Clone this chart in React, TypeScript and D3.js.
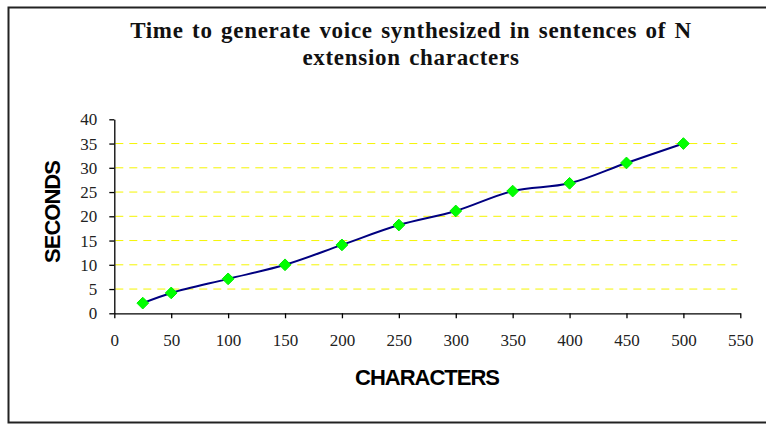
import React, { useRef, useEffect } from 'react';
import * as d3 from 'd3';

const characters = [25, 50, 100, 150, 200, 250, 300, 350, 400, 450, 500];
const seconds = [2.1, 4.2, 7.1, 10, 14.1, 18.2, 21.1, 25.2, 26.8, 31, 35];
const xTicks = [0, 50, 100, 150, 200, 250, 300, 350, 400, 450, 500, 550];
const yTicks = [0, 5, 10, 15, 20, 25, 30, 35, 40];
const titleLines = ['Time to generate voice synthesized in sentences of N', 'extension characters'];

export default function App() {
  const svgRef = useRef<SVGSVGElement>(null);

  useEffect(() => {
    if (!svgRef.current) return;
    const width = 766;
    const height = 424;
    const margin = { top: 119.3, right: 25.7, bottom: 110.7, left: 114.3 };
    const innerWidth = width - margin.left - margin.right;
    const innerHeight = height - margin.top - margin.bottom;

    d3.select(svgRef.current).selectAll('*').remove();
    const svg = d3.select(svgRef.current);

    // outer frame (runs off the right edge like the original)
    svg.append('rect')
      .attr('x', 8.5).attr('y', 7.5)
      .attr('width', 800).attr('height', 415)
      .attr('fill', '#fff')
      .attr('stroke', '#222')
      .attr('stroke-width', 2);

    // title
    titleLines.forEach((t, i) => {
      svg.append('text')
        .attr('x', 411)
        .attr('y', 38 + i * 27)
        .attr('text-anchor', 'middle')
        .attr('font-family', '"Liberation Serif", "Times New Roman", serif')
        .attr('font-weight', 'bold')
        .attr('font-size', '23px')
        .attr('letter-spacing', '0.7px')
        .attr('word-spacing', '2px')
        .attr('fill', '#111')
        .text(t);
    });

    const g = svg.append('g').attr('transform', `translate(${margin.left},${margin.top})`);

    const xScale = d3.scaleLinear().domain([0, 550]).range([0, innerWidth]);
    const yScale = d3.scaleLinear().domain([0, 40]).range([innerHeight, 0]);

    // grid
    yTicks.filter(t => t > 0 && t < 40).forEach((t) => {
      g.append('line')
        .attr('x1', 1).attr('x2', innerWidth - 3)
        .attr('y1', yScale(t)).attr('y2', yScale(t))
        .attr('stroke', '#f5f500')
        .attr('stroke-width', 1)
        .attr('stroke-dasharray', '8,6');
    });

    // axes
    const xAxis = g.append('g')
      .attr('transform', `translate(0,${innerHeight})`)
      .call(d3.axisBottom(xScale).tickValues(xTicks).tickSize(5).tickSizeOuter(0));
    const yAxis = g.append('g')
      .call(d3.axisLeft(yScale).tickValues(yTicks).tickSize(5).tickSizeOuter(0));

    [xAxis, yAxis].forEach((ax) => {
      ax.select('.domain').attr('stroke', '#000').attr('stroke-width', 1.3);
      ax.selectAll('.tick line').attr('stroke', '#000').attr('stroke-width', 1.3);
      ax.selectAll('.tick text')
        .attr('font-family', '"Liberation Serif", "Times New Roman", serif')
        .attr('font-size', '17px')
        .attr('fill', '#222');
    });
    xAxis.selectAll('.tick text').attr('y', 21).attr('dy', '0.71em');
    yAxis.selectAll('.tick text').attr('x', -17);

    // smoothed line
    const pts = characters.map((c, i) => [c, seconds[i]] as [number, number]);
    const line = d3.line<[number, number]>()
      .x(d => xScale(d[0]))
      .y(d => yScale(d[1]))
      .curve(d3.curveCatmullRom.alpha(0.5));
    g.append('path')
      .datum(pts)
      .attr('fill', 'none')
      .attr('stroke', '#000080')
      .attr('stroke-width', 2)
      .attr('d', line);

    // diamond markers
    const diamond = d3.symbol().type(d3.symbolDiamond2).size(88);
    g.selectAll('.pt')
      .data(pts)
      .enter()
      .append('path')
      .attr('class', 'pt')
      .attr('transform', d => `translate(${xScale(d[0])},${yScale(d[1])})`)
      .attr('d', diamond)
      .attr('fill', '#00ff00')
      .attr('stroke', '#00ee00')
      .attr('stroke-width', 1);

    // axis titles
    svg.append('text')
      .attr('x', 427)
      .attr('y', 385)
      .attr('text-anchor', 'middle')
      .attr('font-family', '"Liberation Sans", Arial, sans-serif')
      .attr('font-weight', 'bold')
      .attr('font-size', '22px')
      .attr('letter-spacing', '-1px')
      .attr('fill', '#000')
      .text('CHARACTERS');

    svg.append('text')
      .attr('transform', 'translate(60,212) rotate(-90)')
      .attr('text-anchor', 'middle')
      .attr('font-family', '"Liberation Sans", Arial, sans-serif')
      .attr('font-weight', 'bold')
      .attr('font-size', '22px')
      .attr('letter-spacing', '-1px')
      .attr('fill', '#000')
      .text('SECONDS');
  }, []);

  return (
    <svg
      ref={svgRef}
      width={766}
      height={424}
      style={{ position: 'absolute', left: 0, top: 0, display: 'block' }}
    />
  );
}
